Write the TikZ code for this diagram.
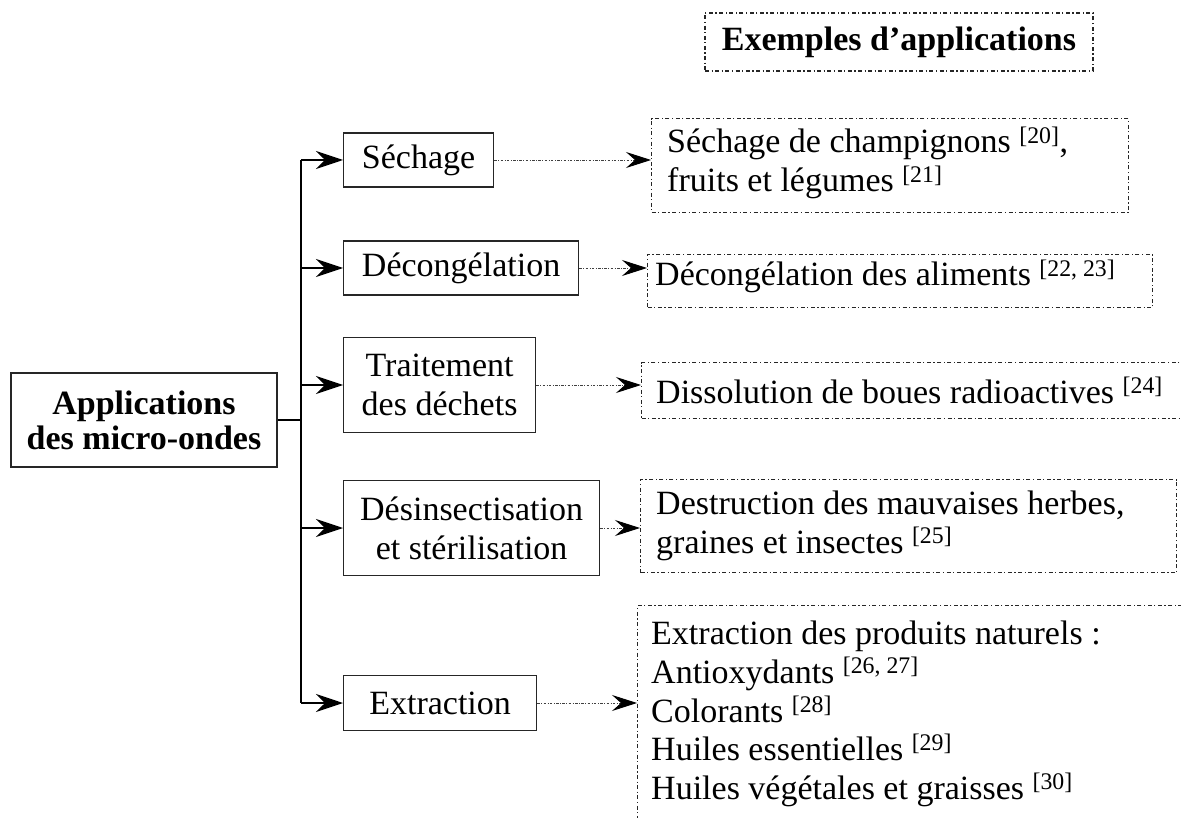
\documentclass[tikz,border=0pt]{standalone}
\usepackage{fontspec}
\setmainfont{Liberation Serif}
\usetikzlibrary{arrows.meta}

\tikzset{
  plainbox/.style={draw=black!85, line width=1.2pt, inner sep=0pt, align=center},
  exbox/.style={draw=black!85, line width=1.2pt,
    dash pattern=on 4pt off 2.5pt on 1.2pt off 2.5pt, inner sep=0pt},
  trunkline/.style={draw=black, line width=1.2pt},
  feed/.style={trunkline, -{Stealth[length=27pt,width=18pt,inset=9pt]}},
  link/.style={draw=black!75, line width=0.9pt,
    dash pattern=on 2.5pt off 1.5pt on 0.8pt off 1.5pt,
    -{Stealth[length=25pt,width=16pt,inset=9pt,color=black]}},
  txt/.style={inner sep=0pt, anchor=base west},
}

\begin{document}
\begin{tikzpicture}[x=1pt, y=-1pt, font=\fontsize{34}{39}\selectfont]
  \useasboundingbox (0,0) rectangle (1181,818);

  % heading of the right-hand column
  \node[exbox, minimum width=388pt, minimum height=58pt] (title) at (899,42)
    {\bfseries Exemples d’applications};

  % root box
  \node[plainbox, minimum width=266pt, minimum height=94pt,
        font=\fontsize{34}{35}\selectfont\bfseries] (main) at (144,420)
    {Applications\\des micro-ondes};

  % kinds of application
  \node[plainbox, anchor=west, minimum width=150pt, minimum height=54pt] (sech) at (343,160) {Séchage};
  \node[plainbox, anchor=west, minimum width=235pt, minimum height=54pt] (deco) at (343,268) {Décongélation};
  \node[plainbox, anchor=west, minimum width=192pt, minimum height=95pt] (trai) at (343,385) {Traitement\\des déchets};
  \node[plainbox, anchor=west, minimum width=256pt, minimum height=95pt] (desi) at (343,528) {Désinsectisation\\et stérilisation};
  \node[plainbox, anchor=west, minimum width=193pt, minimum height=55pt] (extr) at (343,703) {Extraction};

  % example boxes
  \node[exbox, anchor=north west, minimum width=477pt, minimum height=94pt] (exsech) at (651,118) {};
  \node[txt] (exsech1) at (667,153) {Séchage de champignons \textsuperscript{[20]},};
  \node[txt] (exsech2) at (667,192) {fruits et légumes \textsuperscript{[21]}};

  \node[exbox, anchor=north west, minimum width=505pt, minimum height=53pt] (exdeco) at (647,254) {};
  \node[txt] (exdeco1) at (655,286) {Décongélation des aliments \textsuperscript{[22, 23]}};

  \node[exbox, anchor=north west, minimum width=545pt, minimum height=56pt] (extrai) at (641,362) {};
  \node[txt] (extrai1) at (656,403) {Dissolution de boues radioactives \textsuperscript{[24]}};

  \node[exbox, anchor=north west, minimum width=536pt, minimum height=93pt] (exdesi) at (640,479) {};
  \node[txt] (exdesi1) at (656,514) {Destruction des mauvaises herbes,};
  \node[txt] (exdesi2) at (656,553) {graines et insectes \textsuperscript{[25]}};

  \node[exbox, anchor=north west, minimum width=550pt, minimum height=230pt] (exextr) at (637,605) {};
  \node[txt] (exextr1) at (651,644) {Extraction des produits naturels :};
  \node[txt] (exextr2) at (651,683) {Antioxydants \textsuperscript{[26, 27]}};
  \node[txt] (exextr3) at (651,722) {Colorants \textsuperscript{[28]}};
  \node[txt] (exextr4) at (651,760) {Huiles essentielles \textsuperscript{[29]}};
  \node[txt] (exextr5) at (651,799) {Huiles végétales et graisses \textsuperscript{[30]}};

  % tree connectors
  \coordinate (tr) at (301,0);
  \draw[trunkline] (main.east) -- (main.east -| tr);
  \draw[trunkline] (sech.west -| tr) -- (extr.west -| tr);
  \foreach \b in {sech,deco,trai,desi,extr}
    \draw[feed] (\b.west -| tr) -- (\b.west);

  % links to the examples
  \draw[link] (sech.east) -- (sech.east -| exsech.west);
  \draw[link] (deco.east) -- (deco.east -| exdeco.west);
  \draw[link] (trai.east) -- (trai.east -| extrai.west);
  \draw[link] (desi.east) -- (desi.east -| exdesi.west);
  \draw[link] (extr.east) -- (extr.east -| exextr.west);
\end{tikzpicture}
\end{document}
